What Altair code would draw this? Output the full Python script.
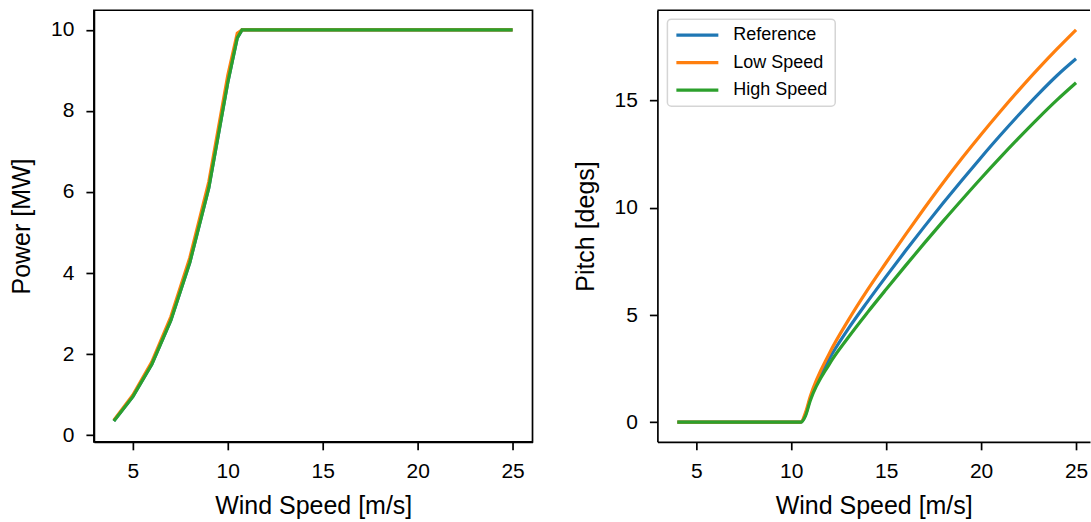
import altair as alt
import pandas as pd

# ---- data ----
wind = [4, 5, 6, 7, 8, 9, 10, 10.5, 10.75, 11, 12, 13, 14, 15, 16, 17, 18, 19, 20, 21, 22, 23, 24, 25]
series = ["Reference", "Low Speed", "High Speed"]
colors = ["#1f77b4", "#ff7f0e", "#2ca02c"]

power_reference = [0.35, 0.95, 1.75, 2.83, 4.26, 6.10, 8.70, 9.80, 10.0, 10.0, 10.0, 10.0,
                   10.0, 10.0, 10.0, 10.0, 10.0, 10.0, 10.0, 10.0, 10.0, 10.0, 10.0, 10.0]
power_low = [0.37, 0.99, 1.81, 2.92, 4.38, 6.25, 8.88, 9.92, 10.0, 10.0, 10.0, 10.0,
             10.0, 10.0, 10.0, 10.0, 10.0, 10.0, 10.0, 10.0, 10.0, 10.0, 10.0, 10.0]
power_high = [0.35, 0.95, 1.75, 2.83, 4.26, 6.10, 8.70, 9.80, 10.0, 10.0, 10.0, 10.0,
              10.0, 10.0, 10.0, 10.0, 10.0, 10.0, 10.0, 10.0, 10.0, 10.0, 10.0, 10.0]

pitch_reference = [0, 0, 0, 0, 0, 0, 0, 0, 0.35, 1.10, 2.95, 4.35, 5.60, 6.80, 7.97, 9.11,
                   10.22, 11.30, 12.35, 13.37, 14.35, 15.29, 16.17, 16.95]
pitch_low = [0, 0, 0, 0, 0, 0, 0, 0, 0.45, 1.20, 3.20, 4.75, 6.15, 7.45, 8.73, 9.97,
             11.17, 12.32, 13.42, 14.48, 15.50, 16.48, 17.41, 18.30]
pitch_high = [0, 0, 0, 0, 0, 0, 0, 0, 0.30, 1.00, 2.70, 3.95, 5.10, 6.20, 7.28, 8.34,
              9.38, 10.39, 11.38, 12.34, 13.27, 14.17, 15.03, 15.83]

x_ticks = [5, 10, 15, 20, 25]
power_ticks = [0, 2, 4, 6, 8, 10]
pitch_ticks = [0, 5, 10, 15]


def long_table(lists):
    rows = []
    for order, (name, vals) in enumerate(zip(series, lists)):
        for w, v in zip(wind, vals):
            rows.append({"wind": w, "value": v, "series": name, "order": order})
    return pd.DataFrame(rows)


df_power = long_table([power_reference, power_low, power_high])
df_pitch = long_table([pitch_reference, pitch_low, pitch_high])

FONT = "Liberation Sans"
LW = 3.2


def x_axis():
    return alt.Axis(values=x_ticks, title="Wind Speed [m/s]", labelPadding=11, titlePadding=12)


left = alt.Chart(df_power).mark_line(strokeWidth=LW).encode(
    x=alt.X("wind:Q", scale=alt.Scale(domain=[2.95, 26.05], nice=False, zero=False), axis=x_axis()),
    y=alt.Y("value:Q", scale=alt.Scale(domain=[-0.164, 10.484], nice=False, zero=False),
            axis=alt.Axis(values=power_ticks, title="Power [MW]", labelPadding=12, titlePadding=16)),
    color=alt.Color("series:N", scale=alt.Scale(domain=series, range=colors), legend=None),
    order=alt.Order("order:Q"),
).properties(width=439, height=432,
             view=alt.ViewBackground(stroke="black", strokeWidth=1.7))

pitch_lines = alt.Chart(df_pitch).mark_line(strokeWidth=LW, interpolate="monotone").encode(
    x=alt.X("wind:Q", scale=alt.Scale(domain=[2.95, 25.735], nice=False, zero=False), axis=x_axis()),
    y=alt.Y("value:Q", scale=alt.Scale(domain=[-0.915, 19.215], nice=False, zero=False),
            axis=alt.Axis(values=pitch_ticks, title="Pitch [degs]", labelPadding=12, titlePadding=16)),
    color=alt.Color("series:N", scale=alt.Scale(domain=series, range=colors),
                    legend=alt.Legend(orient="none", legendX=10, legendY=9, title=None,
                                      symbolType="stroke", symbolSize=1764, symbolStrokeWidth=LW,
                                      clipHeight=18,
                                      labelFont=FONT, labelFontSize=18, labelColor="black",
                                      labelOffset=13, rowPadding=9.5, padding=7,
                                      strokeColor="#d5d5d5",
                                      fillColor="white", cornerRadius=4)),
    order=alt.Order("order:Q"),
)

top_rule = alt.Chart(pd.DataFrame({"k": [0]})).mark_rule(color="black", strokeWidth=1.7).encode(
    x=alt.value(0), x2=alt.value(433), y=alt.value(0)
)

right = alt.layer(pitch_lines, top_rule).properties(width=433, height=432)

chart = alt.hconcat(left, right, spacing=39).resolve_scale(
    color="independent"
).resolve_legend(color="independent").properties(
    padding={"left": 8, "top": 9, "right": 0, "bottom": 0}
).configure_view(strokeWidth=0).configure_axis(
    grid=False,
    domainColor="black", domainWidth=1.7,
    tickColor="black", tickWidth=1.7, tickSize=8,
    labelFont=FONT, labelFontSize=21, labelColor="black",
    titleFont=FONT, titleFontSize=25, titleFontWeight="normal", titleColor="black",
).configure_legend(strokeWidth=1.5)

chart.save("out.html", embed_options={"renderer": "svg", "actions": False})
